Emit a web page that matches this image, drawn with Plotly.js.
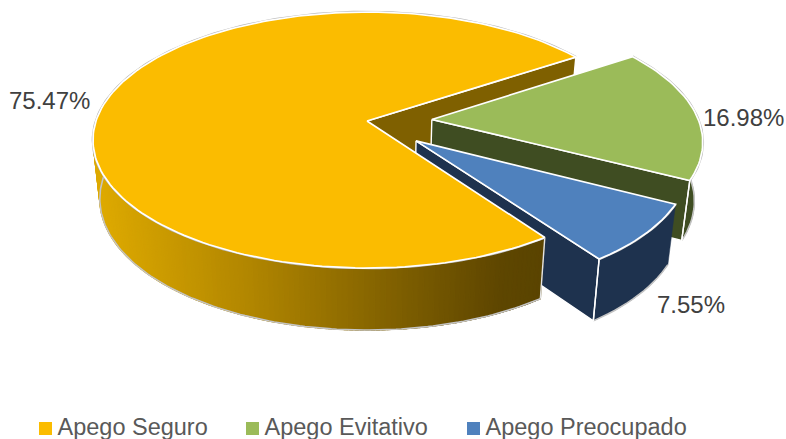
<!DOCTYPE html>
<html><head><meta charset="utf-8">
<script src="https://cdn.plot.ly/plotly-3.0.1.min.js"></script>
<style>html,body{margin:0;padding:0;background:#fff}</style></head>
<body><div id="chart" style="width:786px;height:439px"></div>
<script>
const categories = ["Apego Seguro", "Apego Evitativo", "Apego Preocupado"];
const percents = [75.47, 16.98, 7.55];
const explosion = [0, 0.24, 0.235];
const radiusScale = [1, 0.985, 0.97];
const topColors = ["#FBBC00", "#9BBB59", "#4F81BD"];
const wallColors = ["#7F6000", "#3F4D22", "#1E324E"];
const legendSlots = [39, 246, 467];
const labelSlots = [[49.5, 100], [743.5, 117], [691, 304]];

// Perspective of the pie disc, in pixels of the hidden axes
const cx = 367, cy = 121, R = 271, S = 125.2, K = 0.1486, DEPTH = 62, SHRINK = 0.975;
const firstAngle = 144.8;
const rad = d => d * Math.PI / 180;
function topPt(u, v) { const w = 1 + K * v; return [cx + R * u / w, cy - S * v / w]; }
function bottomPt(u, v) {
  const p = topPt(u, v);
  return [cx + (p[0] - cx) * SHRINK, p[1] + DEPTH * (1 - 0.06 * (v + 1))];
}

const traces = [];
function poly(pts, fill, lineColor, lineWidth) {
  traces.push({
    x: pts.map(p => p[0]).concat(pts[0][0]), y: pts.map(p => p[1]).concat(pts[0][1]),
    mode: "lines", fill: "toself", fillcolor: fill,
    line: {color: lineColor, width: lineWidth}, hoverinfo: "skip", showlegend: false
  });
}
function stroke(pts, color, width) {
  traces.push({
    x: pts.map(p => p[0]), y: pts.map(p => p[1]), mode: "lines",
    line: {color: color, width: width}, hoverinfo: "skip", showlegend: false
  });
}
function arcAngles(a0, a1, step) {
  const out = [], n = Math.max(2, Math.ceil((a1 - a0) / step));
  for (let i = 0; i <= n; i++) out.push(a0 + (a1 - a0) * i / n);
  return out;
}
function mix(a, b, t) { return a.map((c, i) => Math.round(c + (b[i] - c) * t)); }
function goldAt(x) {
  const stops = [[95, [222, 170, 0]], [250, [176, 133, 0]], [400, [125, 94, 0]], [500, [94, 70, 0]], [545, [90, 68, 0]]];
  for (let i = 1; i < stops.length; i++) if (x <= stops[i][0]) {
    const t = Math.max(0, (x - stops[i - 1][0]) / (stops[i][0] - stops[i - 1][0]));
    return "rgb(" + mix(stops[i - 1][1], stops[i][1], t).join(",") + ")";
  }
  return "rgb(90,68,0)";
}

// slices: clockwise from firstAngle
const slices = [];
let start = firstAngle;
percents.forEach((p, i) => {
  const sweep = p / 100 * 360, mid = start + sweep / 2;
  const c = [explosion[i] * Math.sin(rad(mid)), explosion[i] * Math.cos(rad(mid))];
  slices.push({a0: start, a1: start + sweep, c: c, r: radiusScale[i]});
  start += sweep;
});
function rim(s, a) { return [s.c[0] + s.r * Math.sin(rad(a)), s.c[1] + s.r * Math.cos(rad(a))]; }

function solidWall(s, a0, a1, color) {
  const as = arcAngles(a0, a1, 2);
  const upper = as.map(a => { const r = rim(s, a); return topPt(r[0], r[1]); });
  const lower = as.map(a => { const r = rim(s, a); return bottomPt(r[0], r[1]); });
  poly(upper.concat(lower.slice().reverse()), color, color, 0.5);
  stroke(lower, "#c4c4c4", 1.6);
}
function gradientWall(s, a0, a1, colorFn) {
  const as = arcAngles(a0, a1, 1);
  for (let k = 0; k < as.length - 1; k++) {
    const p = rim(s, as[k]), q = rim(s, as[k + 1] + 0.6);
    const quad = [topPt(p[0], p[1]), topPt(q[0], q[1]), bottomPt(q[0], q[1]), bottomPt(p[0], p[1])];
    const col = colorFn((quad[0][0] + quad[1][0]) / 2);
    poly(quad, col, col, 1.2);
  }
  stroke(as.map(a => { const r = rim(s, a); return bottomPt(r[0], r[1]); }), "#c4c4c4", 1.6);
}
function cutWall(s, a, color) {
  const r = rim(s, a);
  poly([topPt(s.c[0], s.c[1]), topPt(r[0], r[1]), bottomPt(r[0], r[1]), bottomPt(s.c[0], s.c[1])], color, "#ffffff", 1.4);
}
function topFace(s, color) {
  const as = arcAngles(s.a0, s.a1, 1.5);
  const arc = as.map(a => { const r = rim(s, a); return topPt(r[0], r[1]); });
  stroke(arc, "#b8b8b8", 2.6);
  poly([topPt(s.c[0], s.c[1])].concat(arc), color, "#ffffff", 1.7);
}
function cornerLine(s, a, color) {
  const r = rim(s, a);
  stroke([topPt(r[0], r[1]), bottomPt(r[0], r[1])], color, 1.4);
}

const [yel, grn, blu] = slices;
// back cut of the large slice sits under the exploded slices
cutWall(yel, yel.a1, wallColors[0]);
// green
solidWall(grn, grn.a0, grn.a1, wallColors[1]);
cutWall(grn, grn.a1, wallColors[1]);
cornerLine(grn, grn.a1, "#ffffff");
topFace(grn, topColors[1]);
// blue
solidWall(blu, blu.a0, blu.a1, wallColors[2]);
cutWall(blu, blu.a1, wallColors[2]);
cornerLine(blu, blu.a1, "#ffffff");
topFace(blu, topColors[2]);
// large slice: front wall and top over the blue cut
gradientWall(yel, yel.a0, 300, x => goldAt(x));
cornerLine(yel, yel.a0, "#e4e4e4");
topFace(yel, topColors[0]);

// legend entries
categories.forEach((name, i) => traces.push({
  x: [null], y: [null], name: name, mode: "markers", hoverinfo: "skip",
  marker: {symbol: "square", size: 13, color: topColors[i]}
}));

const annotations = percents.map((p, i) => ({
  x: labelSlots[i][0], y: labelSlots[i][1], xref: "x", yref: "y",
  text: p.toFixed(2) + "%", showarrow: false,
  font: {family: "Liberation Sans, Arial, sans-serif", size: 24, color: "#404040"}
}));

Plotly.newPlot("chart", traces, {
  width: 786, height: 439, margin: {l: 0, r: 0, t: 0, b: 0},
  paper_bgcolor: "#fff", plot_bgcolor: "#fff",
  xaxis: {range: [0, 786], visible: false, fixedrange: true},
  yaxis: {range: [439, 0], visible: false, fixedrange: true},
  showlegend: true,
  legend: {orientation: "h", x: 0, xanchor: "left", y: 0, yanchor: "bottom",
    font: {family: "Liberation Sans, Arial, sans-serif", size: 23.5, color: "#595959"},
    itemclick: false, itemdoubleclick: false, bgcolor: "rgba(0,0,0,0)", borderwidth: 0,
    traceorder: "normal", entrywidth: 240, entrywidthmode: "pixels", itemwidth: 30},
  annotations: annotations
}, {displayModeBar: false, staticPlot: true}).then(() => {
  // place legend entries on their slots, label close to its swatch
  const entries = document.querySelectorAll(".legend .traces");
  entries.forEach((g, i) => {
    g.setAttribute("transform", "translate(" + (legendSlots[i] - 13.5) + ",428.5)");
    const t = g.querySelector(".legendtext");
    if (t) {
      t.setAttribute("x", 32);
      t.setAttribute("y", parseFloat(t.getAttribute("y") || 0) - 2.5);
    }
  });
  const lg = document.querySelector(".legend");
  if (lg) {
    lg.setAttribute("transform", "translate(0,0)");
    const sb = lg.querySelector(".scrollbox");
    if (sb) { sb.setAttribute("transform", "translate(0,0)"); sb.removeAttribute("clip-path"); }
    lg.querySelectorAll(".legendtoggle").forEach(e => e.remove());
  }
});
</script></body></html>
